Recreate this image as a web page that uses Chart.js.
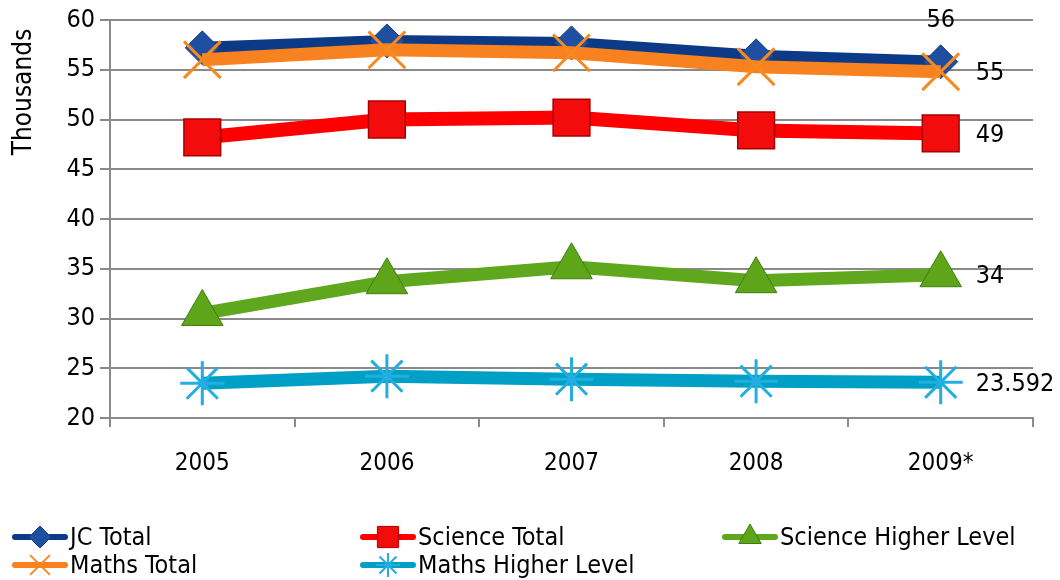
<!DOCTYPE html>
<html>
<head>
<meta charset="utf-8">
<script src="https://cdn.jsdelivr.net/npm/chart.js@4/dist/chart.umd.min.js"></script>
<style>
  html, body { margin: 0; padding: 0; background: #ffffff; }
  #wrap { width: 1060px; height: 580px; position: relative; }
</style>
</head>
<body>
<div id="wrap"><canvas id="c" width="1060" height="580"></canvas></div>
<script>
// ---- data ----
const categories = ['2005', '2006', '2007', '2008', '2009*'];
const jcTotal = [57.2, 57.9, 57.7, 56.4, 55.8];
const mathsTotal = [56.0, 57.0, 56.7, 55.3, 54.8];
const scienceTotal = [48.2, 50.0, 50.2, 48.9, 48.6];
const scienceHigher = [30.5, 33.7, 35.2, 33.8, 34.4];
const mathsHigher = [23.5, 24.2, 23.9, 23.7, 23.592];
const lastLabels = { jc: '56', maths: '55', science: '49', sciHigher: '34', mathsHigher: '23.592' };
const yTicks = { min: 20, max: 60, step: 5 };
const yTitle = 'Thousands';

const FONT = "'DejaVu Sans Condensed', 'DejaVu Sans', sans-serif";

const series = [
  { key: 'mathsHigher', label: 'Maths Higher Level', data: mathsHigher, line: '#00a0c6', fill: '#22aee0', stroke: '#22aee0', style: 'star', r: 22, bw: 3, lr: 12, lbw: 2, place: 'right', lw: 13 },
  { key: 'maths', label: 'Maths Total', data: mathsTotal, line: '#f7821f', fill: '#f7821f', stroke: '#f7891f', style: 'crossRot', r: 26, bw: 3, lr: 14, lbw: 2, place: 'right', lw: 13 },
  { key: 'sciHigher', label: 'Science Higher Level', data: scienceHigher, line: '#5fa71c', fill: '#5ea51a', stroke: '#3f7e0f', style: 'triangle', r: 24, bw: 1, lr: 13, lbw: 1, place: 'right', lw: 13 },
  { key: 'science', label: 'Science Total', data: scienceTotal, line: '#ff0000', fill: '#f20c0c', stroke: '#a80000', style: 'rect', r: 26, bw: 1.5, lr: 15, lbw: 1, place: 'right', lw: 14 },
  { key: 'jc', label: 'JC Total', data: jcTotal, line: '#0c3a86', fill: '#1f4fa0', stroke: '#163f88', style: 'rectRot', r: 17, bw: 1, lr: 11, lbw: 1, place: 'top', lw: 12 }
];

const datasets = series.map(s => ({
  label: s.label,
  data: s.data,
  borderColor: s.line,
  borderWidth: s.lw,
  backgroundColor: s.fill,
  pointStyle: s.style,
  pointRadius: s.r,
  pointHoverRadius: s.r,
  pointBackgroundColor: s.fill,
  pointBorderColor: s.stroke,
  pointBorderWidth: s.bw,
  tension: 0,
  fill: false,
  clip: false
}));

// legend layout (Excel style: 3 columns, 2 rows)
const legendItems = [
  { key: 'jc', x: 13, y: 537 },
  { key: 'science', x: 361, y: 537 },
  { key: 'sciHigher', x: 723, y: 537 },
  { key: 'maths', x: 13, y: 565 },
  { key: 'mathsHigher', x: 361, y: 565 }
];

const lastLabelPlugin = {
  id: 'lastLabels',
  afterDatasetsDraw(chart) {
    const ctx = chart.ctx;
    ctx.save();
    ctx.font = '25px ' + FONT;
    ctx.fillStyle = '#000';
    series.forEach((s, i) => {
      const meta = chart.getDatasetMeta(i);
      const pt = meta.data[s.data.length - 1];
      const txt = lastLabels[s.key];
      if (s.place === 'top') {
        ctx.textAlign = 'center';
        ctx.textBaseline = 'middle';
        ctx.fillText(txt, pt.x, pt.y - 41);
      } else {
        ctx.textAlign = 'left';
        ctx.textBaseline = 'middle';
        ctx.fillText(txt, pt.x + 35, pt.y + 2);
      }
    });
    ctx.restore();
  }
};

const legendPlugin = {
  id: 'excelLegend',
  afterDraw(chart) {
    const ctx = chart.ctx;
    ctx.save();
    legendItems.forEach(it => {
      const s = series.find(q => q.key === it.key);
      ctx.strokeStyle = s.line;
      ctx.lineWidth = 6;
      ctx.lineCap = 'round';
      ctx.beginPath();
      ctx.moveTo(it.x + 2, it.y);
      ctx.lineTo(it.x + 52, it.y);
      ctx.stroke();
      ctx.lineCap = 'butt';
      ctx.fillStyle = s.fill;
      ctx.strokeStyle = s.stroke;
      ctx.lineWidth = s.lbw;
      Chart.helpers.drawPoint(ctx, { pointStyle: s.style, radius: s.lr, rotation: 0, borderWidth: s.lbw }, it.x + 27, it.y);
      ctx.fillStyle = '#000';
      ctx.font = '25px ' + FONT;
      ctx.textAlign = 'left';
      ctx.textBaseline = 'middle';
      ctx.fillText(s.label, it.x + 57, it.y + 1);
    });
    // y-axis title, placed near the top as in the original
    ctx.translate(24, 92);
    ctx.rotate(-Math.PI / 2);
    ctx.fillStyle = '#000';
    ctx.font = '26px ' + FONT;
    ctx.textAlign = 'center';
    ctx.textBaseline = 'middle';
    ctx.fillText(yTitle, 0, 0);
    ctx.restore();
  }
};

new Chart(document.getElementById('c'), {
  type: 'line',
  data: { labels: categories, datasets },
  plugins: [lastLabelPlugin, legendPlugin],
  options: {
    responsive: false,
    animation: false,
    layout: { autoPadding: false, padding: { top: 20, right: 27, bottom: 0, left: 0 } },
    plugins: { legend: { display: false }, tooltip: { enabled: false } },
    scales: {
      x: {
        type: 'category',
        offset: true,
        grid: { offset: true, drawOnChartArea: false, drawTicks: true, tickLength: 9, color: '#8a8a8a', lineWidth: 2 },
        border: { color: '#8a8a8a', width: 2 },
        ticks: { color: '#000', font: { family: FONT, size: 24 }, padding: 22, maxRotation: 0, autoSkip: false },
        afterFit(scale) { scale.height = 162; scale.paddingLeft = 0; scale.paddingRight = 0; }
      },
      y: {
        min: yTicks.min,
        max: yTicks.max,
        grid: { color: '#8a8a8a', lineWidth: 2, tickLength: 10 },
        border: { color: '#8a8a8a', width: 2 },
        ticks: { stepSize: yTicks.step, color: '#000', font: { family: FONT, size: 25 }, padding: 5 },
        title: { display: false },
        afterFit(scale) { scale.width = 110; scale.paddingTop = 0; scale.paddingBottom = 0; }
      }
    }
  }
});
</script>
</body>
</html>
